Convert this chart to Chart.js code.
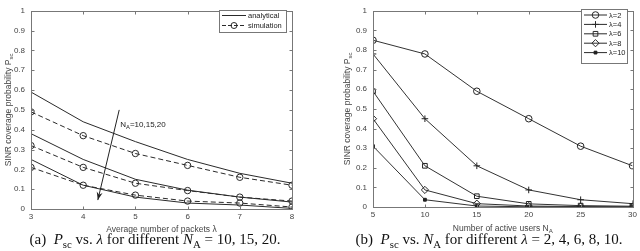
<!DOCTYPE html>
<html>
<head>
<meta charset="utf-8">
<script src="https://cdn.jsdelivr.net/npm/chart.js@4/dist/chart.umd.min.js"></script>
<style>
  html, body { margin: 0; padding: 0; background: #fff; }
  #wrap { position: relative; width: 640px; height: 251px; overflow: hidden; }
  canvas { position: absolute; top: 0; }
</style>
</head>
<body>
<div id="wrap">
  <canvas id="chartA" width="320" height="251" style="left:0"></canvas>
  <canvas id="chartB" width="320" height="251" style="left:320px"></canvas>
</div>
<script>
// (a) coverage vs average number of packets
const lambdaVals = [3, 4, 5, 6, 7, 8];
const anaN10 = [0.59, 0.44, 0.34, 0.25, 0.18, 0.13];
const simN10 = [0.49, 0.37, 0.28, 0.22, 0.16, 0.12];
const anaN15 = [0.38, 0.25, 0.15, 0.095, 0.06, 0.035];
const simN15 = [0.32, 0.21, 0.13, 0.093, 0.06, 0.04];
const anaN20 = [0.25, 0.12, 0.06, 0.03, 0.02, 0.003];
const simN20 = [0.21, 0.12, 0.07, 0.04, 0.03, 0.01];

// (b) coverage vs number of active users
const usersVals = [5, 10, 15, 20, 25, 30];
const pscL2 = [0.85, 0.78, 0.59, 0.45, 0.31, 0.21];
const pscL4 = [0.78, 0.45, 0.21, 0.087, 0.037, 0.017];
const pscL6 = [0.59, 0.21, 0.055, 0.016, 0.007, 0.004];
const pscL8 = [0.45, 0.087, 0.017, 0.005, 0.002, 0.001];
const pscL10 = [0.31, 0.037, 0.005, 0.001, 0.0005, 0.0002];

const lineCol = '#2a2a2a';
const frameCol = '#777';
const tickCol = '#444';
const sans = "'Liberation Sans', Arial, sans-serif";
const serif = "'Liberation Serif', 'Times New Roman', serif";

function pts(xs, ys) {
  return xs.map((x, i) => ({ x: x, y: ys[i] }));
}

// text with optional subscript pieces: [[text, 'r'|'i'|'s'], ...]
function drawRich(ctx, parts, size, family, x, y, align) {
  const fontOf = (p) => {
    if (p[1] === 'i') return 'italic ' + size + 'px ' + family;
    if (p[1] === 's') return (size * 0.72).toFixed(1) + 'px ' + family;
    return size + 'px ' + family;
  };
  let total = 0;
  parts.forEach(p => { ctx.font = fontOf(p); total += ctx.measureText(p[0]).width; });
  let cx = align === 'center' ? x - total / 2 : x;
  ctx.textAlign = 'left';
  ctx.textBaseline = 'alphabetic';
  parts.forEach(p => {
    ctx.font = fontOf(p);
    ctx.fillText(p[0], cx, p[1] === 's' ? y + size * 0.25 : y);
    cx += ctx.measureText(p[0]).width;
  });
}

function legendLine(ctx, x0, x1, y, dash, marker) {
  ctx.save();
  ctx.strokeStyle = lineCol;
  ctx.lineWidth = 1;
  ctx.setLineDash(dash || []);
  ctx.beginPath();
  ctx.moveTo(x0, y);
  ctx.lineTo(x1, y);
  ctx.stroke();
  ctx.setLineDash([]);
  if (marker) {
    ctx.fillStyle = marker.fill || 'rgba(0,0,0,0)';
    Chart.helpers.drawPoint(ctx, { pointStyle: marker.style, radius: marker.r, rotation: 0, borderWidth: 1 }, (x0 + x1) / 2, y);
    if (marker.fill) ctx.fill();
  }
  ctx.restore();
}

// box, inward ticks, axis titles, legend, caption
const matlabFrame = {
  id: 'matlabFrame',
  afterDraw(chart, args, opts) {
    const ctx = chart.ctx;
    const a = chart.chartArea;
    const xs = chart.scales.x, ys = chart.scales.y;
    ctx.save();
    ctx.strokeStyle = frameCol;
    ctx.lineWidth = 1;
    const L = Math.round(a.left) + 0.5, R = Math.round(a.right) + 0.5;
    const T = Math.round(a.top) + 0.5, B = Math.round(a.bottom) + 0.5;
    ctx.strokeRect(L, T, R - L, B - T);
    ctx.beginPath();
    xs.ticks.forEach(t => {
      const px = Math.round(xs.getPixelForValue(t.value)) + 0.5;
      ctx.moveTo(px, B); ctx.lineTo(px, B - 3);
      ctx.moveTo(px, T); ctx.lineTo(px, T + 3);
    });
    ys.ticks.forEach(t => {
      const py = Math.round(ys.getPixelForValue(t.value)) + 0.5;
      ctx.moveTo(L, py); ctx.lineTo(L + 3, py);
      ctx.moveTo(R, py); ctx.lineTo(R - 3, py);
    });
    ctx.stroke();

    // axis titles
    ctx.fillStyle = tickCol;
    drawRich(ctx, opts.xTitle, 8.5, sans, (a.left + a.right) / 2, opts.xTitleY, 'center');
    ctx.save();
    ctx.translate(opts.yTitleX, (a.top + a.bottom) / 2);
    ctx.rotate(-Math.PI / 2);
    drawRich(ctx, [['SINR coverage probability P', 'r'], ['sc', 's']], 8.5, sans, 0, 0, 'center');
    ctx.restore();

    // legend
    const lg = opts.legend;
    ctx.fillStyle = '#fff';
    ctx.fillRect(lg.x, lg.y, lg.w, lg.h);
    ctx.strokeStyle = frameCol;
    ctx.strokeRect(lg.x + 0.5, lg.y + 0.5, lg.w, lg.h);
    lg.items.forEach((it, i) => {
      const y = lg.y + lg.first + i * lg.step;
      legendLine(ctx, lg.x + 3, lg.x + 3 + lg.len, y, it.dash, it.marker);
      ctx.fillStyle = '#222';
      ctx.font = '7.5px ' + sans;
      ctx.textAlign = 'left';
      ctx.textBaseline = 'middle';
      ctx.fillText(it.text, lg.x + 5 + lg.len, y + 0.5);
    });

    // caption
    ctx.fillStyle = '#111';
    drawRich(ctx, opts.caption, 15, serif, opts.capX, 244, 'center');

    if (opts.after) opts.after(chart);
    ctx.restore();
  }
};

function baseOptions(xMin, xMax, xStep, padR, bottom) {
  return {
    responsive: false,
    animation: false,
    events: [],
    layout: { padding: { left: 0, right: padR, top: 4, bottom: 0 } },
    plugins: { legend: { display: false }, tooltip: { enabled: false } },
    scales: {
      x: {
        type: 'linear', min: xMin, max: xMax,
        grid: { display: false, drawTicks: false },
        border: { display: false },
        ticks: { stepSize: xStep, padding: 3, color: tickCol, font: { family: sans, size: 8 }, maxRotation: 0 },
        afterFit(s) { s.height = 251 - bottom; }
      },
      y: {
        min: 0, max: 1,
        grid: { display: false, drawTicks: false },
        border: { display: false },
        ticks: { stepSize: 0.1, padding: 6, color: tickCol, font: { family: sans, size: 8 },
          callback: v => Math.round(v * 10) / 10 + '' }
      }
    }
  };
}

// chart (a)
const anaStyle = { borderColor: lineCol, borderWidth: 1, pointRadius: 0, fill: false };
const simStyle = { borderColor: lineCol, borderWidth: 1, borderDash: [5, 3], pointRadius: 3.2,
  pointStyle: 'circle', pointBorderColor: lineCol, pointBackgroundColor: 'rgba(0,0,0,0)', pointBorderWidth: 1, fill: false };

const optsA = baseOptions(3, 8, 1, 28, 209);
optsA.scales.y.afterFit = s => { s.width = 31; };
optsA.plugins.matlabFrame = {
  xTitle: [['Average number of packets \u03bb', 'r']],
  xTitleY: 232,
  yTitleX: 11,
  legend: { x: 219, y: 10, w: 67, h: 22, first: 5.5, step: 10, len: 24,
    items: [
      { text: 'analytical' },
      { text: 'simulation', dash: [4, 2], marker: { style: 'circle', r: 3 } }
    ] },
  caption: [['(a)  ', 'r'], ['P', 'i'], ['sc', 's'], [' vs. ', 'r'], ['\u03bb', 'i'], [' for different ', 'r'],
    ['N', 'i'], ['A', 's'], [' = 10, 15, 20.', 'r']],
  capX: 155,
  after(chart) {
    const ctx = chart.ctx, xs = chart.scales.x, ys = chart.scales.y;
    const x0 = xs.getPixelForValue(4.69), y0 = ys.getPixelForValue(0.50);
    const x1 = xs.getPixelForValue(4.28), y1 = ys.getPixelForValue(0.045);
    ctx.strokeStyle = '#222';
    ctx.lineWidth = 1;
    ctx.beginPath();
    ctx.moveTo(x0, y0); ctx.lineTo(x1, y1);
    ctx.stroke();
    const ang = Math.atan2(y1 - y0, x1 - x0);
    ctx.fillStyle = '#222';
    ctx.beginPath();
    ctx.moveTo(x1, y1);
    ctx.lineTo(x1 - 8 * Math.cos(ang) + 3 * Math.sin(ang), y1 - 8 * Math.sin(ang) - 3 * Math.cos(ang));
    ctx.lineTo(x1 - 5.5 * Math.cos(ang), y1 - 5.5 * Math.sin(ang));
    ctx.lineTo(x1 - 8 * Math.cos(ang) - 3 * Math.sin(ang), y1 - 8 * Math.sin(ang) + 3 * Math.cos(ang));
    ctx.closePath();
    ctx.fill();
    ctx.fillStyle = '#222';
    drawRich(ctx, [['N', 'r'], ['A', 's'], ['=10,15,20', 'r']], 8, sans,
      xs.getPixelForValue(4.71), ys.getPixelForValue(0.415), 'left');
  }
};

new Chart(document.getElementById('chartA'), {
  type: 'line',
  data: {
    datasets: [
      Object.assign({ label: 'analytical N=10', data: pts(lambdaVals, anaN10) }, anaStyle),
      Object.assign({ label: 'simulation N=10', data: pts(lambdaVals, simN10) }, simStyle),
      Object.assign({ label: 'analytical N=15', data: pts(lambdaVals, anaN15) }, anaStyle),
      Object.assign({ label: 'simulation N=15', data: pts(lambdaVals, simN15) }, simStyle),
      Object.assign({ label: 'analytical N=20', data: pts(lambdaVals, anaN20) }, anaStyle),
      Object.assign({ label: 'simulation N=20', data: pts(lambdaVals, simN20) }, simStyle)
    ]
  },
  options: optsA,
  plugins: [matlabFrame]
});

// chart (b)
const markerB = [
  { style: 'circle', r: 3.3 },
  { style: 'cross', r: 3.3 },
  { style: 'rect', r: 3.3 },
  { style: 'rectRot', r: 3.6 },
  { style: 'rect', r: 2, fill: '#222' }
];
const seriesB = [pscL2, pscL4, pscL6, pscL8, pscL10];
const namesB = ['\u03bb=2', '\u03bb=4', '\u03bb=6', '\u03bb=8', '\u03bb=10'];

const optsB = baseOptions(5, 30, 5, 5, 207);
optsB.scales.y.afterFit = s => { s.width = 53; };
optsB.plugins.matlabFrame = {
  xTitle: [['Number of active users N', 'r'], ['A', 's']],
  xTitleY: 231,
  yTitleX: 30,
  legend: { x: 261, y: 9, w: 46, h: 54, first: 6, step: 9.4, len: 23,
    items: namesB.map((n, i) => ({ text: n, marker: markerB[i] })) },
  caption: [['(b)  ', 'r'], ['P', 'i'], ['sc', 's'], [' vs. ', 'r'], ['N', 'i'], ['A', 's'], [' for different ', 'r'],
    ['\u03bb', 'i'], [' = 2, 4, 6, 8, 10.', 'r']],
  capX: 169
};

new Chart(document.getElementById('chartB'), {
  type: 'line',
  data: {
    datasets: seriesB.map((s, i) => ({
      label: namesB[i],
      data: pts(usersVals, s),
      borderColor: '#333',
      borderWidth: 1,
      fill: false,
      pointStyle: markerB[i].style,
      pointRadius: markerB[i].r,
      pointBorderColor: '#222',
      pointBorderWidth: 1,
      pointBackgroundColor: markerB[i].fill || 'rgba(0,0,0,0)'
    }))
  },
  options: optsB,
  plugins: [matlabFrame]
});
</script>
</body>
</html>
